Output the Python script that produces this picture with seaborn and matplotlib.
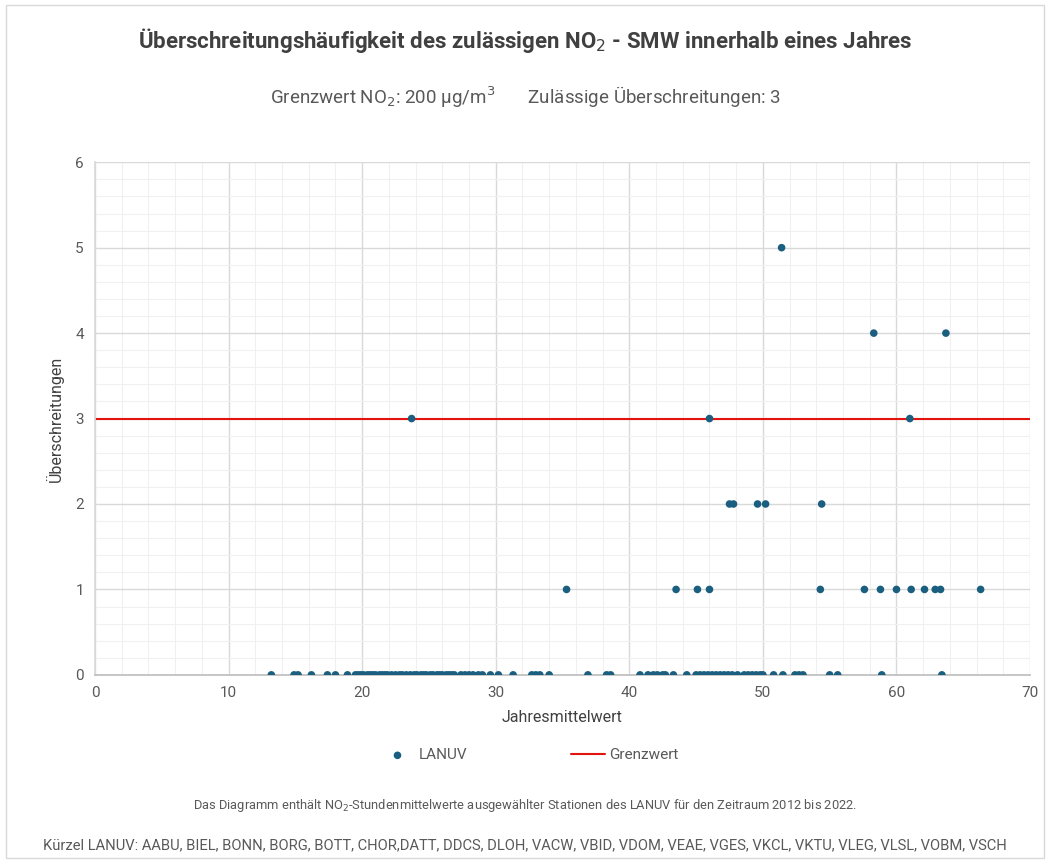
import numpy as np
import pandas as pd
import seaborn as sns
import matplotlib.pyplot as plt
from matplotlib.patches import Rectangle
from matplotlib.ticker import MultipleLocator

# Jahresmittelwert (x) und Anzahl Überschreitungen (y) je Station/Jahr
x_zero = [13.2, 14.9, 15.2, 16.2, 17.4, 18.0, 18.9,
          19.5, 19.7, 19.9, 20.1, 20.4, 20.6, 20.8, 21.0, 21.3, 21.5, 21.7,
          21.9, 22.2, 22.5, 22.8, 23.0, 23.3,
          23.6, 23.9, 24.1, 24.4, 24.6, 24.8, 25.1, 25.3, 25.6, 25.8, 26.0,
          26.3, 26.5, 26.7, 26.9,
          27.4, 27.7, 28.0, 28.3, 28.7, 29.0, 29.6, 30.2, 31.3,
          32.7, 33.0, 33.3, 34.0, 36.9, 38.3, 38.6,
          40.8, 41.4, 41.8, 42.1, 42.5, 42.7, 43.3,
          44.3, 45.0, 45.3, 45.6, 45.9, 46.2, 46.5, 46.8, 47.1, 47.4, 47.7,
          48.1, 48.6, 48.9, 49.2, 49.5, 49.8, 50.0,
          50.8, 51.5, 52.4, 52.7, 53.0, 55.0, 55.6, 58.9, 63.4]
x_one = [35.3, 43.5, 45.1, 46.0, 54.3, 57.6, 58.8, 60.0, 61.1, 62.1, 62.9, 63.3, 66.3]
x_two = [47.5, 47.8, 49.6, 50.2, 54.4]
x_three = [23.7, 46.0, 61.0]
x_four = [58.3, 63.7]
x_five = [51.4]

limit_x = [0, 70]
limit_y = [3, 3]

xs = x_zero + x_one + x_two + x_three + x_four + x_five
ys = ([0] * len(x_zero) + [1] * len(x_one) + [2] * len(x_two)
      + [3] * len(x_three) + [4] * len(x_four) + [5] * len(x_five))
df = pd.DataFrame({"Jahresmittelwert": xs, "Überschreitungen": ys})
df_limit = pd.DataFrame({"x": limit_x, "y": limit_y})

sns.set_theme(style="white")
plt.rcParams['font.family'] = ['Roboto', 'DejaVu Sans']

text_col = "#595959"
dot_col = "#1b5f80"

fig = plt.figure(figsize=(10.5, 8.63), dpi=100)
fig.patches.append(Rectangle((0.006, 0.006), 0.988, 0.988, transform=fig.transFigure,
                             fill=False, edgecolor="#d9d9d9", linewidth=1))
ax = fig.add_axes([0.0905, 0.218, 0.8905, 0.594])

ax.set_xlim(0, 70)
ax.set_ylim(0, 6)
ax.xaxis.set_major_locator(MultipleLocator(10))
ax.xaxis.set_minor_locator(MultipleLocator(2))
ax.yaxis.set_major_locator(MultipleLocator(1))
ax.yaxis.set_minor_locator(MultipleLocator(0.2))
ax.grid(which="major", color="#d9d9d9", linewidth=1)
ax.grid(which="minor", color="#f0f0f0", linewidth=0.8)
ax.set_axisbelow(True)

sns.lineplot(data=df_limit, x="x", y="y", color="#e3130f", linewidth=1.5, ax=ax,
             label="Grenzwert", zorder=2)
sns.scatterplot(data=df, x="Jahresmittelwert", y="Überschreitungen", color=dot_col,
                s=30, edgecolor="none", ax=ax, label="LANUV", zorder=3)

for side in ["top", "right"]:
    ax.spines[side].set_visible(False)
ax.spines["left"].set_color("#d9d9d9")
ax.spines["bottom"].set_color("#bfbfbf")
ax.tick_params(which="both", length=0, labelsize=11, labelcolor=text_col, pad=8)
ax.set_xlabel("Jahresmittelwert", fontsize=11.5, color="#404040", labelpad=7)
ax.set_ylabel("Überschreitungen", fontsize=11.5, color="#404040", labelpad=8)

handles, labels = ax.get_legend_handles_labels()
order = [labels.index("LANUV"), labels.index("Grenzwert")]
ax.legend([handles[i] for i in order], [labels[i] for i in order],
          loc="center", bbox_to_anchor=(0.465, -0.157), ncol=2, frameon=False,
          fontsize=11, labelcolor=text_col, columnspacing=6.8, handlelength=2.2,
          handletextpad=0.3)

fig.text(0.5, 0.953, "Überschreitungshäufigkeit des zulässigen NO$_2$ - SMW innerhalb eines Jahres",
         ha="center", va="center", fontsize=16, fontweight="bold", color="#404040")
fig.text(0.5, 0.887, "Grenzwert NO$_2$: 200 µg/m$^3$       Zulässige Überschreitungen: 3",
         ha="center", va="center", fontsize=13.5, color=text_col)
fig.text(0.5, 0.067, "Das Diagramm enthält NO$_2$-Stundenmittelwerte ausgewählter Stationen des LANUV für den Zeitraum 2012 bis 2022.",
         ha="center", va="center", fontsize=9.3, color=text_col)
fig.text(0.5, 0.021, "Kürzel LANUV: AABU, BIEL, BONN, BORG, BOTT, CHOR,DATT, DDCS, DLOH, VACW, VBID, VDOM, VEAE, VGES, VKCL, VKTU, VLEG, VLSL, VOBM, VSCH",
         ha="center", va="center", fontsize=10.6, color=text_col)

fig.savefig("out.png", dpi=100)
